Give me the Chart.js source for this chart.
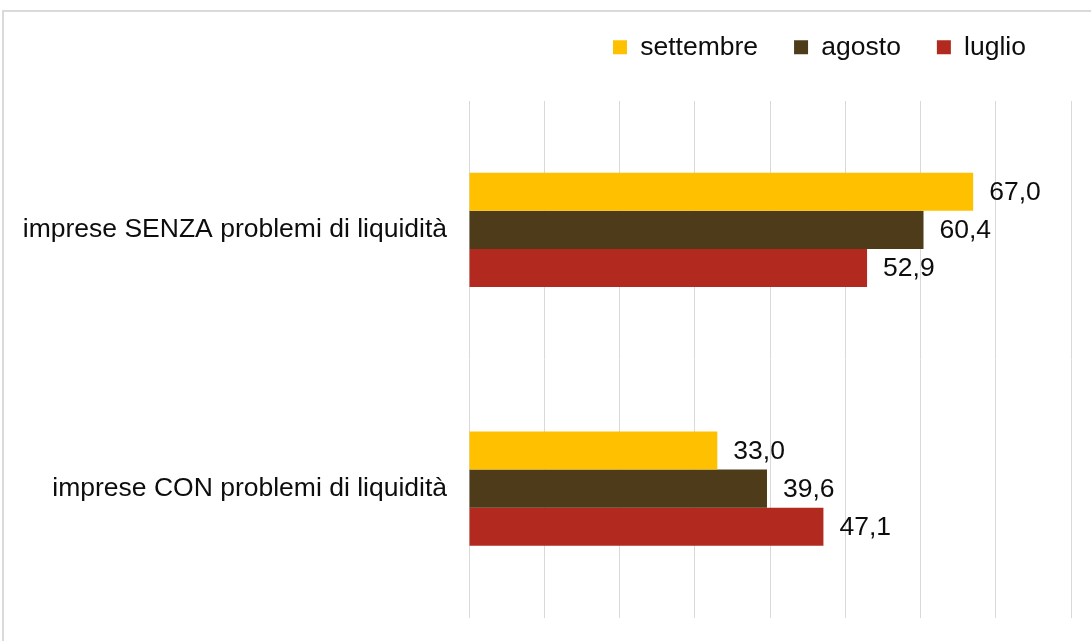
<!DOCTYPE html>
<html lang="it">
<head>
  <meta charset="UTF-8">
  <title>Imprese e liquidità</title>
  <script src="https://cdn.jsdelivr.net/npm/chart.js@4/dist/chart.umd.min.js"></script>
  <style>
    html, body { margin: 0; padding: 0; background: #fff; overflow: hidden; }
    body { width: 1091px; height: 641px; position: relative; }
    #frame {
      position: absolute; left: 2px; top: 10px; right: 0; bottom: 0;
      border-top: 2px solid #dadada; border-left: 2px solid #dadada;
      pointer-events: none;
    }
    #wrap { position: absolute; left: 0; top: -2px; width: 1091px; height: 646px; }
  </style>
</head>
<body>
  <div id="wrap"><canvas id="myBarChart"></canvas></div>
  <div id="frame"></div>
  <script>
    // data
    const categories = ["imprese SENZA problemi di liquidità", "imprese CON problemi di liquidità"];
    const settembre = [67.0, 33.0];
    const agosto = [60.4, 39.6];
    const luglio = [52.9, 47.1];

    const fontFamily = "'Liberation Sans', Arial, sans-serif";
    const fontSize = 26.5;

    // labels at the end of each bar, italian decimal comma
    const valueLabels = {
      id: "valueLabels",
      afterDatasetsDraw(chart) {
        const ctx = chart.ctx;
        ctx.save();
        ctx.font = fontSize + "px " + fontFamily;
        ctx.fillStyle = "#0d0d0d";
        ctx.textAlign = "left";
        ctx.textBaseline = "middle";
        chart.data.datasets.forEach((ds, i) => {
          const meta = chart.getDatasetMeta(i);
          meta.data.forEach((bar, j) => {
            const txt = ds.data[j].toFixed(1).replace(".", ",");
            ctx.fillText(txt, bar.x + 16, bar.y + 1);
          });
        });
        ctx.restore();
      }
    };

    // legend in the original sits a bit left of the plot's right edge
    const legendShift = {
      id: "legendShift",
      afterLayout(chart) {
        if (chart.legend) chart.legend.right -= 9;
      }
    };

    const ctx = document.getElementById("myBarChart").getContext("2d");
    new Chart(ctx, {
      type: "bar",
      data: {
        labels: categories,
        datasets: [
          { label: "settembre", data: settembre, backgroundColor: "#FFC000" },
          { label: "agosto", data: agosto, backgroundColor: "#4D3B19" },
          { label: "luglio", data: luglio, backgroundColor: "#B1291F" }
        ]
      },
      options: {
        indexAxis: "y",
        responsive: true,
        maintainAspectRatio: false,
        animation: false,
        categoryPercentage: 0.442,
        barPercentage: 1,
        layout: { padding: { left: 0, right: 20, top: 0, bottom: 26 } },
        scales: {
          x: {
            position: "top",
            min: 0,
            max: 80,
            ticks: { display: false, stepSize: 10 },
            grid: { color: "#d9d9d9", lineWidth: 1, drawTicks: false },
            border: { display: false },
            afterFit: (scale) => { scale.height = 30; }
          },
          y: {
            ticks: {
              padding: 22,
              color: "#0d0d0d",
              font: { family: fontFamily, size: fontSize }
            },
            grid: { display: false, drawTicks: false },
            border: { display: false },
            afterFit: (scale) => {
              scale.width = 469;
              scale.paddingTop = 0;
              scale.paddingBottom = 0;
            }
          }
        },
        plugins: {
          legend: {
            position: "top",
            align: "end",
            labels: {
              boxWidth: 14,
              boxHeight: 14,
              padding: 36,
              color: "#0d0d0d",
              font: { family: fontFamily, size: fontSize }
            }
          },
          tooltip: { enabled: false }
        }
      },
      plugins: [valueLabels, legendShift]
    });
  </script>
</body>
</html>
